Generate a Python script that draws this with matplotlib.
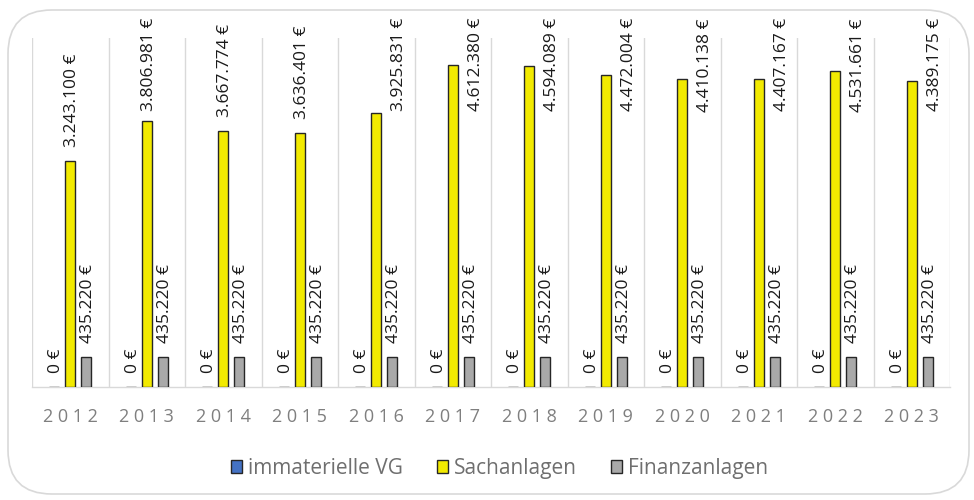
import numpy as np
import matplotlib
matplotlib.use("Agg")
import matplotlib.pyplot as plt
from matplotlib.patches import FancyBboxPatch

plt.rcParams['font.family'] = ['Open Sans', 'DejaVu Sans']

years = ["2012", "2013", "2014", "2015", "2016", "2017",
         "2018", "2019", "2020", "2021", "2022", "2023"]
immaterielle = [0, 0, 0, 0, 0, 0, 0, 0, 0, 0, 0, 0]
sachanlagen = [3243100, 3806981, 3667774, 3636401, 3925831, 4612380,
               4594089, 4472004, 4410138, 4407167, 4531661, 4389175]
finanzanlagen = [435220] * 12
series_names = ["immaterielle VG", "Sachanlagen", "Finanzanlagen"]
colors = ["#4472c4", "#f2ea00", "#a9a9a9"]


def fmt(v):
    return "{:,} €".format(v).replace(",", ".")


fig = plt.figure(figsize=(9.74, 5.0), dpi=100)
W, H = 974, 500

# rounded frame around the chart
frame = FancyBboxPatch((8 / W, 6 / H), 961 / W, 484 / H,
                       boxstyle="round,pad=0,rounding_size=0.045",
                       transform=fig.transFigure, facecolor="none",
                       edgecolor="#d9d9d9", linewidth=1.2,
                       mutation_aspect=W / H, zorder=-1)
fig.patches.append(frame)

ax = fig.add_axes([32 / W, 1 - 387 / H, 918 / W, 349 / H])
ax.set_facecolor("none")

x = np.arange(len(years))
step = 0.209
width = 0.13
data = [immaterielle, sachanlagen, finanzanlagen]
for i, vals in enumerate(data):
    ax.bar(x + (i - 1) * step, vals, width, color=colors[i],
           edgecolor="#262626", linewidth=1.0, label=series_names[i],
           zorder=3)

ax.set_xlim(-0.5, len(years) - 0.5)
ax.set_ylim(0, 5000000)
ax.set_yticks([])
ax.set_xticks(x)
ax.set_xticklabels([" ".join(y) for y in years], fontsize=13,
                   color="#7f7f7f")
ax.tick_params(axis="x", length=0, pad=15)
ax.set_xticks(np.arange(-0.5, len(years)), minor=True)
ax.tick_params(axis="x", which="minor", length=0)
ax.grid(axis="x", which="minor", color="#d9d9d9", linewidth=1.0, zorder=0)
for s in ["left", "right", "top"]:
    ax.spines[s].set_visible(False)
ax.spines["bottom"].set_color("#d9d9d9")
ax.spines["bottom"].set_linewidth(1.0)

# value labels
gap = 14
labels = []
for i, vals in enumerate(data):
    for j, v in enumerate(vals):
        t = ax.annotate(fmt(v), (x[j] + (i - 1) * step, v),
                        xytext=(2, gap), textcoords="offset pixels",
                        rotation=90, ha="center", va="bottom",
                        fontsize=12.5, color="#1a1a1a", zorder=4,
                        annotation_clip=False)
        labels.append((t, x[j] + (i - 1) * step, v))

fig.canvas.draw()
r = fig.canvas.get_renderer()
top_limit = H - 18
for t, xx, v in labels:
    bb = t.get_window_extent(r)
    if bb.y1 > top_limit:
        dy = gap - (bb.y1 - top_limit)
        dx = 2
        if dy < 2:
            dx = 23
        t.set_position((dx, dy))

fig.legend(loc="lower center", bbox_to_anchor=(0.513, 0.005), ncol=3,
           frameon=False, fontsize=15, handlelength=0.55, handleheight=0.55,
           handletextpad=0.3, columnspacing=1.6, labelcolor="#6f6f6f")

fig.savefig("out.png", dpi=100)
